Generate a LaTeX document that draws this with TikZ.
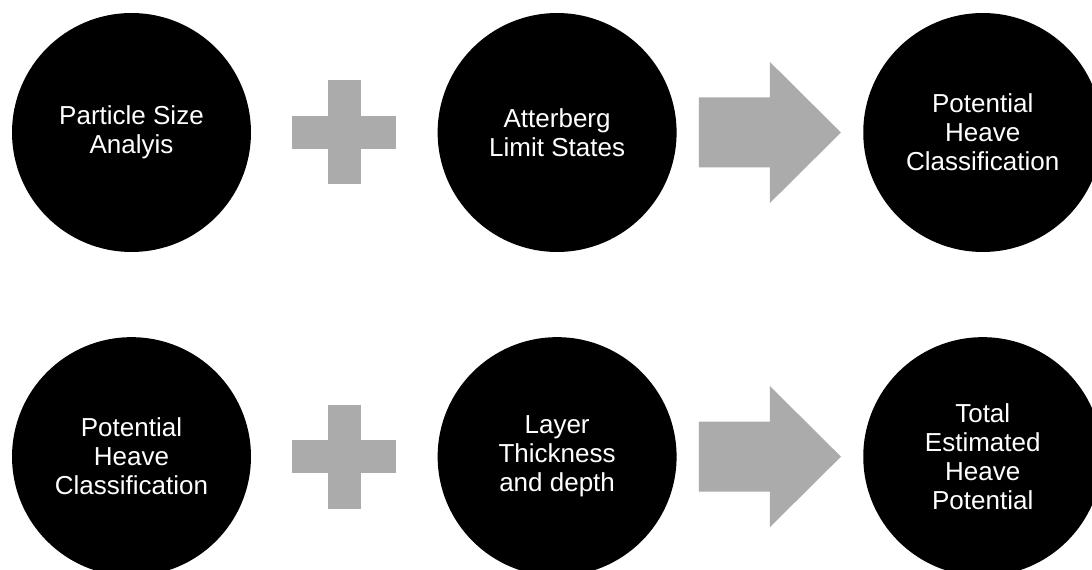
\documentclass[tikz,border=0pt]{standalone}
\usepackage{fontspec}
\setmainfont{Liberation Sans}
\usetikzlibrary{positioning}
\definecolor{signgray}{RGB}{171,171,171}
\tikzset{
  stage/.style={circle, fill=black, text=white, minimum size=4.78cm, inner sep=0pt,
    align=center, font=\fontsize{14.8}{16.5}\selectfont},
}

\begin{document}
\begin{tikzpicture}[x=0.02cm, y=-0.02cm]
\useasboundingbox (0,0) rectangle (1092,570);
\clip (0,0) rectangle (1092,570);

% first row of stages
\node[stage] (s1) at (131.5,132.5) {Particle Size\\Analyis};
\node[stage, right=3.72cm of s1] (s2) {Atterberg\\Limit States};
\node[stage, right=3.72cm of s2] (s3) {Potential\\Heave\\Classification};

% second row of stages
\node[stage, below=1.69cm of s1] (s4) {Potential\\Heave\\Classification};
\node[stage, right=3.72cm of s4] (s5) {Layer\\Thickness\\and depth};
\node[stage, right=3.72cm of s5] (s6) {Total\\Estimated\\Heave\\Potential};

% plus signs between the first two stages
\foreach \a/\b in {s1/s2,s4/s5}{
  \path (\a.east) -- (\b.west) coordinate[midway] (plus\a);
  \fill[signgray] ([shift={(-16.7,-52)}]plus\a) rectangle ([shift={(16.7,52)}]plus\a);
  \fill[signgray] ([shift={(-52,-16.7)}]plus\a) rectangle ([shift={(52,16.7)}]plus\a);
}

% block arrows towards the result
\foreach \a/\b in {s2/s3,s5/s6}{
  \path (\a.east) -- (\b.west) coordinate[midway] (arrow\a);
  \fill[signgray] ([shift={(-71,-35)}]arrow\a) -- ([shift={(0,-35)}]arrow\a)
    -- ([shift={(0,-70.5)}]arrow\a) -- ([shift={(71,0)}]arrow\a)
    -- ([shift={(0,70.5)}]arrow\a) -- ([shift={(0,35)}]arrow\a)
    -- ([shift={(-71,35)}]arrow\a) -- cycle;
}

\end{tikzpicture}
\end{document}
